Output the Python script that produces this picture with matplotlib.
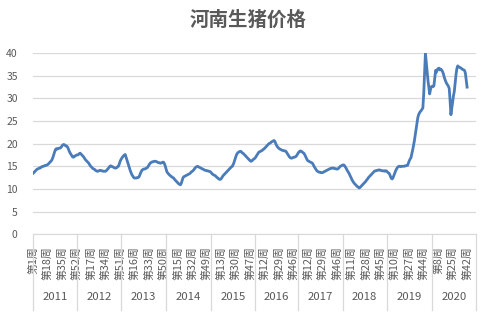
import numpy as np
import matplotlib
matplotlib.use("Agg")
import matplotlib.pyplot as plt
import matplotlib.transforms as mtransforms

plt.rcParams['font.family'] = ['Noto Sans CJK SC', 'DejaVu Sans']

# weekly prices per year (yuan/kg)
years = [2011, 2012, 2013, 2014, 2015, 2016, 2017, 2018, 2019, 2020]
weeks_in_year = [52, 52, 52, 53, 52, 51, 52, 52, 53, 52]

p2011 = [13.5, 13.7, 13.9, 14.1, 14.3, 14.4, 14.5, 14.6, 14.6, 14.8, 14.9, 15.0, 15.0,
         15.1, 15.2, 15.2, 15.3, 15.4, 15.6, 15.8, 16.0, 16.2, 16.5, 17.0, 17.6, 18.2,
         18.7, 18.9, 18.8, 18.9, 19.0, 19.0, 19.1, 19.3, 19.6, 19.8, 19.8, 19.7, 19.5,
         19.5, 19.3, 18.9, 18.4, 18.0, 17.7, 17.4, 17.1, 17.0, 17.1, 17.3, 17.4, 17.5]
p2012 = [17.5, 17.6, 17.8, 17.9, 17.7, 17.5, 17.3, 17.1, 16.8, 16.5, 16.3, 16.1, 15.9,
         15.7, 15.4, 15.1, 14.9, 14.7, 14.5, 14.4, 14.3, 14.1, 14.0, 13.9, 13.9, 14.0,
         14.1, 14.1, 14.0, 14.0, 13.9, 13.9, 13.9, 13.9, 14.1, 14.3, 14.5, 14.8, 15.0,
         15.1, 15.0, 14.9, 14.8, 14.7, 14.6, 14.6, 14.7, 14.9, 15.0, 15.5, 16.1, 16.5]
p2013 = [16.8, 17.1, 17.3, 17.5, 17.6, 17.0, 16.4, 15.8, 15.2, 14.6, 14.0, 13.5, 13.1,
         12.8, 12.5, 12.4, 12.4, 12.4, 12.5, 12.5, 12.6, 13.0, 13.5, 13.9, 14.2, 14.3,
         14.4, 14.4, 14.5, 14.6, 14.7, 15.0, 15.3, 15.6, 15.8, 15.9, 16.0, 16.0, 16.1,
         16.1, 16.1, 16.0, 15.9, 15.8, 15.8, 15.7, 15.7, 15.8, 15.9, 15.9, 15.6, 15.1]
p2014 = [14.4, 13.8, 13.5, 13.3, 13.1, 12.9, 12.8, 12.6, 12.5, 12.4, 12.1, 11.9, 11.7,
         11.5, 11.3, 11.1, 11.0, 10.9, 11.3, 11.9, 12.5, 12.7, 12.8, 12.9, 13.0, 13.1,
         13.2, 13.3, 13.4, 13.6, 13.8, 13.9, 14.1, 14.3, 14.6, 14.8, 14.9, 15.0, 14.9,
         14.8, 14.7, 14.6, 14.5, 14.4, 14.3, 14.2, 14.1, 14.1, 14.0, 14.0, 13.9, 13.9,
         13.8]
p2015 = [13.6, 13.4, 13.2, 13.1, 13.0, 12.9, 12.7, 12.5, 12.4, 12.2, 12.1, 12.1, 12.3,
         12.6, 12.9, 13.1, 13.3, 13.5, 13.7, 13.9, 14.1, 14.3, 14.5, 14.7, 14.9, 15.0,
         15.4, 15.9, 16.5, 17.1, 17.6, 17.9, 18.1, 18.2, 18.3, 18.3, 18.1, 17.9, 17.8,
         17.6, 17.4, 17.2, 17.0, 16.8, 16.6, 16.4, 16.2, 16.1, 16.2, 16.4, 16.6, 16.7]
p2016 = [16.9, 17.2, 17.5, 17.8, 18.1, 18.2, 18.3, 18.4, 18.5, 18.7, 18.8, 19.0, 19.2,
         19.4, 19.6, 19.8, 20.0, 20.1, 20.2, 20.4, 20.5, 20.6, 20.7, 20.5, 20.0, 19.6,
         19.3, 19.1, 18.9, 18.8, 18.7, 18.6, 18.5, 18.5, 18.4, 18.4, 18.3, 18.0, 17.7,
         17.4, 17.1, 16.9, 16.8, 16.8, 16.9, 17.0, 17.0, 17.1, 17.2, 17.5, 17.8]
p2017 = [18.1, 18.3, 18.4, 18.3, 18.2, 18.0, 17.9, 17.6, 17.2, 16.8, 16.4, 16.2, 16.1,
         16.0, 15.9, 15.8, 15.7, 15.4, 15.0, 14.7, 14.4, 14.1, 13.9, 13.8, 13.7, 13.7,
         13.6, 13.6, 13.6, 13.7, 13.8, 13.9, 14.0, 14.1, 14.2, 14.3, 14.4, 14.5, 14.5,
         14.6, 14.6, 14.6, 14.5, 14.5, 14.4, 14.4, 14.4, 14.6, 14.8, 15.0, 15.1, 15.2]
p2018 = [15.3, 15.3, 15.1, 14.8, 14.5, 14.1, 13.8, 13.5, 13.1, 12.7, 12.3, 11.9, 11.6,
         11.3, 11.1, 10.9, 10.7, 10.5, 10.4, 10.2, 10.3, 10.5, 10.7, 10.9, 11.1, 11.3,
         11.5, 11.7, 12.0, 12.2, 12.5, 12.7, 12.9, 13.1, 13.3, 13.5, 13.7, 13.9, 14.0,
         14.0, 14.1, 14.1, 14.2, 14.2, 14.1, 14.1, 14.0, 14.0, 14.0, 13.9, 14.0, 14.0]
p2019 = [13.8, 13.6, 13.5, 13.2, 12.7, 12.3, 12.2, 12.5, 13.0, 13.5, 14.0, 14.4, 14.7,
         14.9, 15.0, 15.0, 14.9, 15.0, 15.0, 15.0, 15.0, 15.1, 15.1, 15.2, 15.2, 15.7,
         16.2, 16.6, 16.9, 17.7, 18.6, 19.6, 20.6, 21.9, 23.2, 24.5, 25.7, 26.4, 26.8,
         27.1, 27.3, 27.6, 27.9, 31.0, 35.5, 40.0, 38.0, 35.8, 34.0, 32.5, 31.0, 32.0,
         32.6]
p2020 = [32.7, 32.6, 32.8, 34.5, 36.2, 35.8, 36.4, 36.6, 36.7, 36.3, 36.5, 36.3, 36.0,
         35.5, 34.8, 34.2, 33.7, 33.3, 33.0, 32.7, 32.2, 29.5, 26.4, 27.8, 29.3, 30.6,
         31.6, 33.5, 35.3, 36.6, 37.2, 37.0, 36.9, 36.8, 36.7, 36.5, 36.4, 36.3, 36.2,
         35.6, 34.0, 32.5]

prices = [p2011, p2012, p2013, p2014, p2015, p2016, p2017, p2018, p2019, p2020]

title = '河南生猪价格'
label_step = 17

# build the weekly category axis (year, week) with blanks for weeks not yet reported
week_no = []
values = []
for n, vals in zip(weeks_in_year, prices):
    week_no += list(range(1, n + 1))
    values += vals + [np.nan] * (n - len(vals))
values = np.array(values)
n_cat = len(values)
x = np.arange(n_cat)

fig = plt.figure(figsize=(4.92, 3.13), dpi=100)
ax = fig.add_axes([0.067, 0.252, 0.9005, 0.578])

ax.plot(x, values, color='#4a7cba', lw=2.0, solid_joinstyle='round')

ax.set_xlim(-0.5, n_cat - 0.5)
ax.set_ylim(0, 40)
ax.set_yticks(range(0, 41, 5))
ax.grid(axis='y', color='#d9d9d9', lw=0.9)
ax.set_axisbelow(True)
for s in ['left', 'right', 'top']:
    ax.spines[s].set_visible(False)
ax.spines['bottom'].set_color('#d9d9d9')
ax.tick_params(axis='y', length=0, labelsize=7.5, labelcolor='#595959', pad=11)

ticks = list(range(0, n_cat, label_step))
ax.set_xticks(ticks)
ax.set_xticklabels(['第%d周' % week_no[i] for i in ticks], rotation=90,
                   fontsize=7.8, color='#595959', va='top', ha='center')
ax.tick_params(axis='x', length=0, pad=9)

# year group labels and separators
trans = mtransforms.blended_transform_factory(ax.transData, ax.transAxes)
edges = np.concatenate([[0], np.cumsum(weeks_in_year)]) - 0.5
for e in edges:
    ax.plot([e, e], [0, -0.42], transform=trans, color='#d9d9d9', lw=0.9, clip_on=False)
for yr, a, b in zip(years, edges[:-1], edges[1:]):
    ax.text((a + b) / 2, -0.35, str(yr), transform=trans, ha='center', va='center',
            fontsize=8.2, color='#595959')

fig.text(0.504, 0.935, title, ha='center', va='center', fontsize=14,
         fontweight='bold', color='#595959')

fig.savefig('out.png', dpi=100)
